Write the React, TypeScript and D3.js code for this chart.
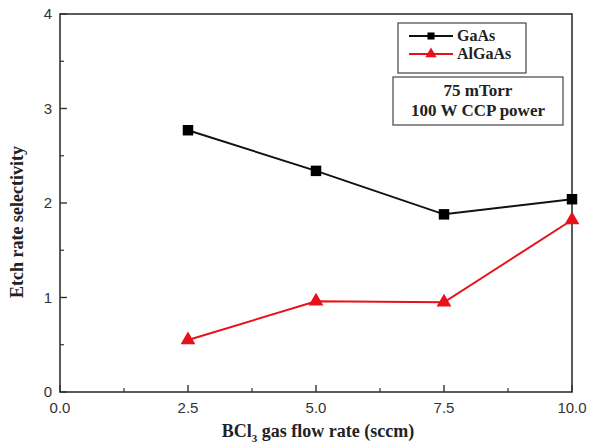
import * as d3 from 'd3';

// Chart values.
const flowRates = [2.5, 5.0, 7.5, 10.0];
const gaasValues = [2.77, 2.34, 1.88, 2.04];
const algaasValues = [0.55, 0.96, 0.95, 1.82];
const xTicks = [0, 2.5, 5.0, 7.5, 10.0];
const xMinorTicks = [1.25, 3.75, 6.25, 8.75];
const yTicks = [0, 1, 2, 3, 4];
const yMinorTicks = [0.5, 1.5, 2.5, 3.5];
const legendNames = ['GaAs', 'AlGaAs'];
const conditionLines = ['75 mTorr', '100 W CCP power'];

const W = 589;
const H = 446;
const margin = { left: 60, right: 17, top: 14, bottom: 54 };
const serif = '"Liberation Serif", "Times New Roman", serif';
const sans = '"Liberation Sans", Arial, sans-serif';

const App = () => {
  // Get the axis scales.
  const x = d3.scaleLinear().domain([0, 10]).range([margin.left, W - margin.right]);
  const y = d3.scaleLinear().domain([0, 4]).range([H - margin.bottom, margin.top]);

  const line = d3
    .line<number>()
    .x((_, i) => x(flowRates[i]))
    .y((d) => y(d));

  const triangle = d3.symbol(d3.symbolTriangle, 95)();
  const square = d3.symbol(d3.symbolSquare, 110)();

  const x0 = x(0);
  const y0 = y(0);

  return (
    <svg width={W} height={H} style={{ position: 'absolute', left: 0, top: 0, background: '#fff' }}>
      {/* frame */}
      <rect
        x={x0}
        y={y(4)}
        width={x(10) - x0}
        height={y0 - y(4)}
        fill="none"
        stroke="#333"
        strokeWidth={1.6}
      />

      {/* x ticks */}
      {xTicks.map((t) => (
        <g key={'xt' + t}>
          <line x1={x(t)} x2={x(t)} y1={y0} y2={y0 - 7} stroke="#333" strokeWidth={1.4} />
          <text x={x(t)} y={y0 + 21} textAnchor="middle" fontFamily={sans} fontSize={15} fill="#333">
            {t.toFixed(1)}
          </text>
        </g>
      ))}
      {xMinorTicks.map((t) => (
        <line key={'xm' + t} x1={x(t)} x2={x(t)} y1={y0} y2={y0 - 4} stroke="#333" strokeWidth={1.2} />
      ))}

      {/* y ticks */}
      {yTicks.map((t) => (
        <g key={'yt' + t}>
          <line x1={x0} x2={x0 + 7} y1={y(t)} y2={y(t)} stroke="#333" strokeWidth={1.4} />
          <text x={x0 - 8} y={y(t) + 5} textAnchor="end" fontFamily={sans} fontSize={15} fill="#333">
            {t}
          </text>
        </g>
      ))}
      {yMinorTicks.map((t) => (
        <line key={'ym' + t} x1={x0} x2={x0 + 4} y1={y(t)} y2={y(t)} stroke="#333" strokeWidth={1.2} />
      ))}

      {/* axis titles */}
      <text
        transform={`translate(23, 222) rotate(-90)`}
        textAnchor="middle"
        fontFamily={serif}
        fontWeight="bold"
        fontSize={18}
        fill="#222"
      >
        Etch rate selectivity
      </text>
      <text x={318} y={437} textAnchor="middle" fontFamily={serif} fontWeight="bold" fontSize={18} fill="#222">
        BCl<tspan fontSize={11} dy={5}>3</tspan>
        <tspan dy={-5}> gas flow rate (sccm)</tspan>
      </text>

      {/* series */}
      <path d={line(gaasValues) ?? ''} fill="none" stroke="#111" strokeWidth={2} />
      <path d={line(algaasValues) ?? ''} fill="none" stroke="#e8101a" strokeWidth={2} />
      {gaasValues.map((v, i) => (
        <path key={'g' + i} d={square ?? ''} transform={`translate(${x(flowRates[i])},${y(v)})`} fill="#000" />
      ))}
      {algaasValues.map((v, i) => (
        <path key={'a' + i} d={triangle ?? ''} transform={`translate(${x(flowRates[i])},${y(v)})`} fill="#e8101a" />
      ))}

      {/* legend */}
      <rect x={398} y={23} width={128} height={50} fill="#fff" stroke="#444" strokeWidth={1.2} />
      {legendNames.map((name, i) => {
        const ly = 36 + i * 18;
        const color = i === 0 ? '#111' : '#e8101a';
        return (
          <g key={name}>
            <line x1={409} x2={453} y1={ly} y2={ly} stroke={color} strokeWidth={2} />
            <path
              d={(i === 0 ? d3.symbol(d3.symbolSquare, 50)() : d3.symbol(d3.symbolTriangle, 55)()) ?? ''}
              transform={`translate(431,${ly})`}
              fill={i === 0 ? '#000' : '#e8101a'}
            />
            <text x={457} y={ly + 5} fontFamily={serif} fontWeight="bold" fontSize={16} fill="#222">
              {name}
            </text>
          </g>
        );
      })}

      {/* conditions */}
      <rect x={393} y={77} width={170} height={48} fill="#fff" stroke="#444" strokeWidth={1.2} />
      {conditionLines.map((s, i) => (
        <text
          key={s}
          x={478}
          y={96 + i * 20}
          textAnchor="middle"
          fontFamily={serif}
          fontWeight="bold"
          fontSize={17}
          fill="#222"
        >
          {s}
        </text>
      ))}
    </svg>
  );
};

export default App;
